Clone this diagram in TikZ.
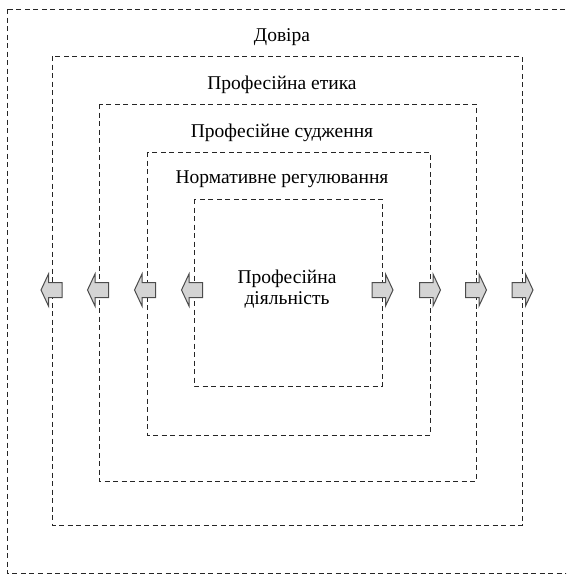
\documentclass[tikz,border=0pt]{standalone}
\usepackage{fontspec}
\setmainfont{Liberation Serif}
\begin{document}
\begin{tikzpicture}[x=1pt,y=-1pt,
  frame/.style={draw=black!85, line width=0.9pt, dash pattern=on 5pt off 3.5pt},
  lbl/.style={anchor=base, inner sep=0pt, font=\fontsize{19.5}{21}\selectfont, text=black},
  blk/.style={draw=black!70, fill=black!17, line width=1pt, line join=miter}]
\useasboundingbox (0,0) rectangle (566,574);
\begin{scope}
\clip (0,0) rectangle (566,574);
\draw[frame] (7,9) rectangle (572,573);
\draw[frame] (52,56) rectangle (522,525);
\draw[frame] (99,104) rectangle (476,481);
\draw[frame] (147,152) rectangle (430,435);
\draw[frame] (194,199) rectangle (382,386);
\end{scope}
\node[lbl] (t1) at (282,41) {Довіра};
\node[lbl] (t2) at (282,89) {Професійна етика};
\node[lbl] (t3) at (282,137) {Професійне судження};
\node[lbl] (t4) at (282,183) {Нормативне регулювання};
\node[lbl] (t5a) at (287,283) {Професійна};
\node[lbl] (t5b) at (287,304) {діяльність};
% left arrows
\foreach \c in {51.5,98,145,192}{
  \draw[blk] (\c-10.5,290) -- (\c-3,274) -- (\c-3,282.5) -- (\c+10.5,282.5)
    -- (\c+10.5,297.5) -- (\c-3,297.5) -- (\c-3,306) -- cycle;
}
% right arrows
\foreach \c in {382.5,430,476,522.5}{
  \draw[blk] (\c+10.5,290) -- (\c+3,274) -- (\c+3,282.5) -- (\c-10.5,282.5)
    -- (\c-10.5,297.5) -- (\c+3,297.5) -- (\c+3,306) -- cycle;
}
\end{tikzpicture}
\end{document}
